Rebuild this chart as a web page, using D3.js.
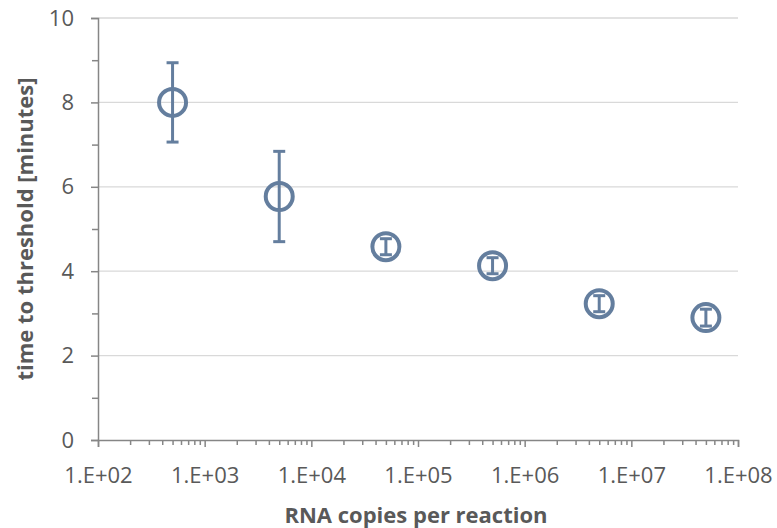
<!DOCTYPE html>
<html><head><meta charset="utf-8">
<script src="https://cdn.jsdelivr.net/npm/d3@7"></script>
<style>body{margin:0;background:#fff}svg{display:block}text{font-family:"Open Sans","Liberation Sans",sans-serif}</style>
</head><body>
<script>
const copies = [5e2, 5e3, 5e4, 5e5, 5e6, 5e7];
const timeToThreshold = [8.0, 5.77, 4.58, 4.13, 3.23, 2.90];
const errorMinutes = [0.94, 1.07, 0.19, 0.19, 0.19, 0.2];
const xTickValues = [1e2, 1e3, 1e4, 1e5, 1e6, 1e7, 1e8];
const xTickLabels = ["1.E+02","1.E+03","1.E+04","1.E+05","1.E+06","1.E+07","1.E+08"];
const yTickValues = [0, 2, 4, 6, 8, 10];

const W = 777, H = 528;
const m = {left: 98, right: 39, top: 18, bottom: 88};
const svg = d3.select("body").append("svg").attr("width", W).attr("height", H);
const x = d3.scaleLog().domain([1e2, 1e8]).range([m.left, W - m.right]);
const y = d3.scaleLinear().domain([0, 10]).range([H - m.bottom, m.top]);
const axisColor = "#868686", textColor = "#595959", col = "#647e9e";
const fs = 22;

// gridlines
svg.append("g").selectAll("line").data(yTickValues.filter(v => v > 0)).join("line")
  .attr("x1", m.left).attr("x2", W - m.right).attr("y1", d => y(d)).attr("y2", d => y(d))
  .attr("stroke", "#d9d9d9").attr("stroke-width", 1.3);

// y axis
svg.append("g").attr("transform", `translate(${m.left},0)`)
  .call(d3.axisLeft(y).tickValues(yTickValues).tickSize(7).tickPadding(17).tickFormat(d3.format("d")));
svg.append("g").attr("transform", `translate(${m.left},0)`)
  .call(d3.axisLeft(y).tickValues([1,3,5,7,9]).tickSize(6).tickFormat(""))
  .call(g => g.select(".domain").remove());
// x axis
const minor = [];
for (let e = 2; e < 8; e++) for (let k = 2; k <= 9; k++) minor.push(k * Math.pow(10, e));
svg.append("g").attr("transform", `translate(0,${y(0)})`)
  .call(d3.axisBottom(x).tickValues(minor).tickSize(5).tickFormat(""))
  .call(g => g.select(".domain").remove());
svg.append("g").attr("transform", `translate(0,${y(0)})`)
  .call(d3.axisBottom(x).tickValues(xTickValues).tickSize(7).tickPadding(20).tickFormat((d, i) => xTickLabels[i]));

svg.selectAll(".domain, .tick line").attr("stroke", axisColor).attr("stroke-width", 1.5);
svg.selectAll(".tick text").attr("fill", textColor).attr("font-size", fs)
  .attr("font-family", "'Open Sans', sans-serif");

// titles
svg.append("text").attr("x", 416).attr("y", 523)
  .attr("text-anchor", "middle").attr("font-weight", "bold").attr("font-size", fs)
  .attr("fill", textColor).text("RNA copies per reaction");
svg.append("text").attr("transform", `translate(33,${(y(0) + y(10)) / 2}) rotate(-90)`)
  .attr("text-anchor", "middle").attr("font-weight", "bold").attr("font-size", fs)
  .attr("fill", textColor).text("time to threshold [minutes]");

// error bars
const data = copies.map((c, i) => ({c, v: timeToThreshold[i], e: errorMinutes[i]}));
const eb = svg.append("g").attr("stroke", col).attr("stroke-width", 3);
eb.selectAll("line.v").data(data).join("line").attr("class", "v")
  .attr("x1", d => x(d.c)).attr("x2", d => x(d.c))
  .attr("y1", d => y(d.v + d.e)).attr("y2", d => y(d.v - d.e));
eb.selectAll("line.t").data(data).join("line").attr("class", "t")
  .attr("x1", d => x(d.c) - 6).attr("x2", d => x(d.c) + 6)
  .attr("y1", d => y(d.v + d.e)).attr("y2", d => y(d.v + d.e));
eb.selectAll("line.b").data(data).join("line").attr("class", "b")
  .attr("x1", d => x(d.c) - 6).attr("x2", d => x(d.c) + 6)
  .attr("y1", d => y(d.v - d.e)).attr("y2", d => y(d.v - d.e));

// markers
svg.append("g").selectAll("circle").data(data).join("circle")
  .attr("cx", d => x(d.c)).attr("cy", d => y(d.v)).attr("r", 13.5)
  .attr("fill", "none").attr("stroke", col).attr("stroke-width", 4);
</script>
</body></html>
